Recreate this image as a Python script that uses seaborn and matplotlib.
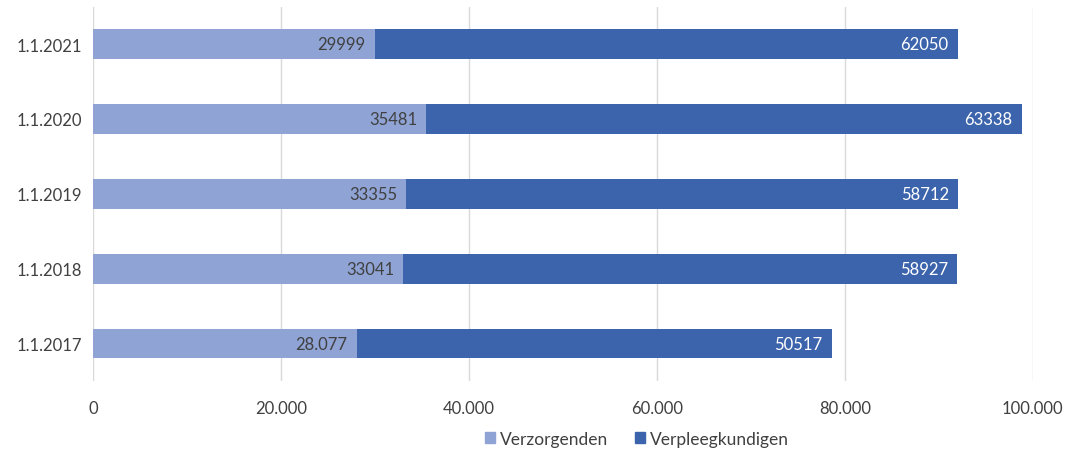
import matplotlib
matplotlib.use("Agg")
import matplotlib.pyplot as plt
from matplotlib.patches import Patch
import seaborn as sns
import numpy as np
import pandas as pd

dates = ["1.1.2021", "1.1.2020", "1.1.2019", "1.1.2018", "1.1.2017"]
verzorgenden = [29999, 35481, 33355, 33041, 28077]
verpleegkundigen = [62050, 63338, 58712, 58927, 50517]
verz_labels = ["29999", "35481", "33355", "33041", "28.077"]
verpl_labels = ["62050", "63338", "58712", "58927", "50517"]

light = "#8FA3D5"
dark = "#3C64AC"

sns.set_style("white")
plt.rcParams["font.family"] = ["Lato", "DejaVu Sans"]

df = pd.DataFrame({"datum": dates, "verz": verzorgenden, "verpl": verpleegkundigen})
df["totaal"] = df["verz"] + df["verpl"]

fig = plt.figure(figsize=(10.67, 4.52), dpi=100)
ax = fig.add_axes([0.087, 0.155, 0.881, 0.828])

sns.barplot(data=df, x="totaal", y="datum", order=dates, color=dark, width=0.4,
            orient="h", ax=ax, saturation=1, linewidth=0, zorder=2)
sns.barplot(data=df, x="verz", y="datum", order=dates, color=light, width=0.4,
            orient="h", ax=ax, saturation=1, linewidth=0, zorder=3)

for i in range(len(dates)):
    ax.text(df["verz"][i] - 1000, i, verz_labels[i], ha="right", va="center",
            fontsize=12, color="#404040", zorder=4)
    ax.text(df["totaal"][i] - 1000, i, verpl_labels[i], ha="right", va="center",
            fontsize=12, color="white", zorder=4)

ax.set_xlim(0, 100000)
ax.set_ylim(4.5, -0.5)
ax.set_xticks(np.arange(0, 100001, 20000))
ax.set_xticklabels(["0", "20.000", "40.000", "60.000", "80.000", "100.000"])
ax.xaxis.grid(True, color="#D9D9D9", lw=1, zorder=0)
ax.set_axisbelow(True)
ax.set_xlabel("")
ax.set_ylabel("")
for s in ax.spines.values():
    s.set_visible(False)
ax.tick_params(axis="both", length=0, labelsize=12, colors="#404040", pad=8)
ax.tick_params(axis="x", pad=14)

handles = [Patch(color=light, label="Verzorgenden"), Patch(color=dark, label="Verpleegkundigen")]
fig.legend(handles=handles, loc="lower center", bbox_to_anchor=(0.597, -0.025), ncol=2,
           frameon=False, fontsize=12.5, handlelength=0.6, handleheight=0.6,
           handletextpad=0.3, columnspacing=1.5, labelcolor="#404040")

fig.savefig("out.png", dpi=100, facecolor="white")
